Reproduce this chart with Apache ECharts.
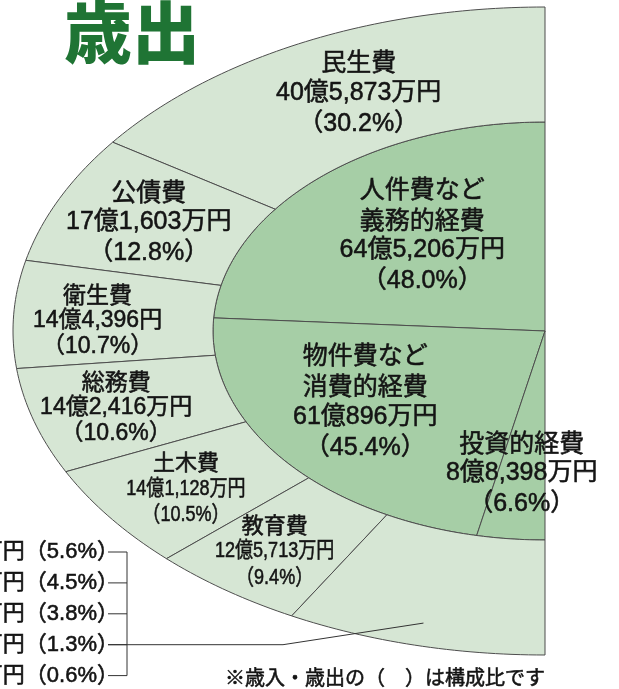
<!DOCTYPE html>
<html>
<head>
<meta charset="utf-8">
<title>歳出</title>
<script src="https://cdn.jsdelivr.net/npm/echarts@6/dist/echarts.min.js"></script>
<style>
    html, body { margin: 0; padding: 0; background: #fff; }
    #chart { width: 619px; height: 689px; }
</style>
</head>
<body>
<div id="chart"></div>
<script>
// 内側リング：性質別
var innerNames = ['人件費など\n義務的経費', '物件費など\n消費的経費', '投資的経費'];
var innerAmounts = ['64億5,206万円', '61億896万円', '8億8,398万円'];
var innerShares = [48.0, 45.4, 6.6];

// 外側リング：目的別
var outerNames = ['民生費', '公債費', '衛生費', '総務費', '土木費', '教育費'];
var outerAmounts = ['40億5,873万円', '17億1,603万円', '14億4,396円', '14億2,416万円', '14億1,128万円', '12億5,713万円'];
var outerShares = [30.2, 12.8, 10.7, 10.6, 10.5, 9.4];

// その他（左下の一覧。左端は切れている）
var otherShares = [5.6, 4.5, 3.8, 1.3, 0.6];

var noteText = '※歳入・歳出の（　）は構成比です';

// ---- 見た目 ----
var FONT = '"Liberation Sans", "Noto Sans CJK JP", sans-serif';
var CJK_FONT = '"Noto Sans CJK JP", sans-serif';
var INNER_FILL = '#a6cea6';
var OUTER_FILL = '#d6e6d4';
var EDGE = '#4d4d4d';
var INK = '#141414';
var INK_W = 0.55;                   // 文字を少し太く見せる縁取り
var RX_IN = 0.624, RY_IN = 0.645;   // 内側リングの半径（外側 = 1）

var labelPresets = {
    big:   { size: 25, sub: 25, lh: 31,   scale: 1 },
    mid:   { size: 23, sub: 23, lh: 26,   scale: 1 },
    small: { size: 22, sub: 22, lh: 26.5, scale: 0.82 }
};
var innerPreset = ['big', 'big', 'big'];
var innerNudge = [[25, 3], [-8, -12], [-1, 7]];
var outerPreset = ['big', 'big', 'mid', 'mid', 'small', 'small'];
var outerNudge = [[11, -1], [-2, 0], [-16, 3], [-14, 2], [-6, 4], [-11, 7]];

// 左下の一覧（ピクセル）
var LEG = { textRight: 119, y0: 552, gap: 30.9, tickX0: 108, bracketX: 127, leaderRow: 3, bendX: 283, reach: 0.93 };

function pctText(p) { return '（' + p.toFixed(1) + '%）'; }
function toRad(pct) { return (90 + pct * 1.8) * Math.PI / 180; }
function cumulate(shares) {
    var out = [], acc = 0;
    shares.forEach(function (s) { out.push([acc, acc + s]); acc += s; });
    return out;
}

var otherTotal = otherShares.reduce(function (a, b) { return a + b; }, 0);
var innerData = cumulate(innerShares);
var outerData = cumulate(outerShares.concat([otherTotal]));

var innerLabels = innerNames.map(function (n, i) {
    return n.split('\n').concat([innerAmounts[i], pctText(innerShares[i])]);
});
var outerLabels = outerNames.map(function (n, i) {
    return [n, outerAmounts[i], pctText(outerShares[i])];
});

function textStyle(text, size, family, align) {
    return {
        text: text, fontSize: size, fontFamily: family, fill: INK,
        stroke: INK, lineWidth: INK_W,
        align: align, verticalAlign: 'middle',
        textAlign: align, textVerticalAlign: 'middle'
    };
}

function makeRing(cfg) {
    return function (params, api) {
        var a0 = api.value(0), a1 = api.value(1), idx = params.dataIndex;
        var n = Math.max(4, Math.ceil((a1 - a0) * 2));
        var pts = [], i, t;
        for (i = 0; i <= n; i++) {
            t = toRad(a0 + (a1 - a0) * i / n);
            pts.push(api.coord([cfg.rx1 * Math.cos(t), cfg.ry1 * Math.sin(t)]));
        }
        if (cfg.rx0 === 0) {
            pts.push(api.coord([0, 0]));
        } else {
            for (i = n; i >= 0; i--) {
                t = toRad(a0 + (a1 - a0) * i / n);
                pts.push(api.coord([cfg.rx0 * Math.cos(t), cfg.ry0 * Math.sin(t)]));
            }
        }
        var children = [{
            type: 'polygon',
            shape: { points: pts },
            style: { fill: cfg.fill, stroke: EDGE, lineWidth: 1 }
        }];

        var tm = toRad((a0 + a1) / 2);
        var lab = cfg.labels[idx];
        if (lab) {
            var c = api.coord([cfg.lx * Math.cos(tm), cfg.ly * Math.sin(tm)]);
            var nd = cfg.nudge[idx];
            var cx = c[0] + nd[0], cy = c[1] + nd[1];
            var p = labelPresets[cfg.preset[idx]];
            lab.forEach(function (line, k) {
                var head = k < lab.length - 2;
                children.push({
                    type: 'text',
                    x: cx,
                    y: cy + (k - (lab.length - 1) / 2) * p.lh,
                    scaleX: head ? 1 : p.scale,
                    z2: 10,
                    style: textStyle(line, head ? p.size : p.sub, head ? CJK_FONT : FONT, 'center')
                });
            });
        } else if (cfg.leader) {
            // その他 → 左下の一覧へ引き出し線
            var from = api.coord([LEG.reach * Math.cos(tm), LEG.reach * Math.sin(tm)]);
            var rowY = LEG.y0 + LEG.leaderRow * LEG.gap;
            children.push({
                type: 'polyline',
                z2: 10,
                shape: { points: [from, [LEG.bendX, rowY], [LEG.tickX0, rowY]] },
                style: { stroke: '#333', lineWidth: 1, fill: null }
            });
        }
        return { type: 'group', children: children };
    };
}

var graphic = [];
otherShares.forEach(function (p, i) {
    var y = LEG.y0 + i * LEG.gap;
    graphic.push({
        type: 'text', x: LEG.textRight, y: y,
        style: textStyle('万円' + pctText(p), 22, FONT, 'right')
    });
    graphic.push({
        type: 'line',
        shape: { x1: LEG.tickX0, y1: y, x2: LEG.bracketX, y2: y },
        style: { stroke: '#333', lineWidth: 1 }
    });
});
graphic.push({
    type: 'line',
    shape: { x1: LEG.bracketX, y1: LEG.y0, x2: LEG.bracketX, y2: LEG.y0 + 4 * LEG.gap },
    style: { stroke: '#333', lineWidth: 1 }
});
graphic.push({
    type: 'text', x: 385, y: 677,
    style: textStyle(noteText, 20, CJK_FONT, 'center')
});

var chart = echarts.init(document.getElementById('chart'));
chart.setOption({
    animation: false,
    title: {
        text: '歳出',
        left: 64,
        top: -2,
        padding: 0,
        textStyle: { fontSize: 68, fontWeight: 900, color: '#1f7434', fontFamily: CJK_FONT }
    },
    grid: { left: 13, right: 74, top: 7, bottom: 34 },
    xAxis: { type: 'value', min: -1, max: 0, show: false },
    yAxis: { type: 'value', min: -1, max: 1, show: false },
    graphic: graphic,
    series: [{
        type: 'custom',
        coordinateSystem: 'cartesian2d',
        clip: false,
        silent: true,
        data: innerData,
        renderItem: makeRing({
            rx0: 0, ry0: 0, rx1: RX_IN, ry1: RY_IN,
            lx: RX_IN * 0.65, ly: RY_IN * 0.65,
            fill: INNER_FILL, labels: innerLabels, preset: innerPreset, nudge: innerNudge
        })
    }, {
        type: 'custom',
        coordinateSystem: 'cartesian2d',
        clip: false,
        silent: true,
        data: outerData,
        renderItem: makeRing({
            rx0: RX_IN, ry0: RY_IN, rx1: 1, ry1: 1,
            lx: (RX_IN + 1) / 2, ly: (RY_IN + 1) / 2,
            fill: OUTER_FILL, labels: outerLabels, preset: outerPreset, nudge: outerNudge,
            leader: true
        })
    }]
});
</script>
</body>
</html>
